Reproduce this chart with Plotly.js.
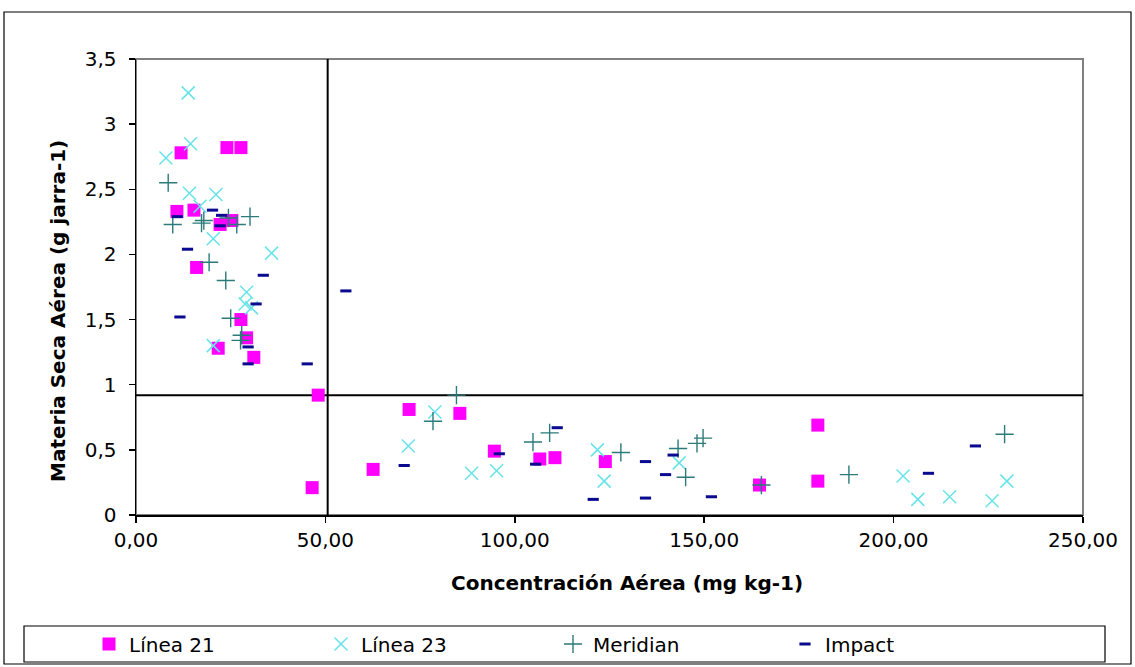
<!DOCTYPE html>
<html>
<head>
<meta charset="utf-8">
<script src="https://cdn.plot.ly/plotly-3.0.1.min.js"></script>
<style>html,body{margin:0;padding:0;background:#fff;}#chart{width:1135px;height:667px;}</style>
</head>
<body>
<div id="chart"></div>
<script>
// Series names
const seriesNames = ["Línea 21", "Línea 23", "Meridian", "Impact"];

// Línea 21
const linea21X = [11.9, 24.0, 27.7, 10.8, 15.3, 22.2, 25.3, 16.0, 27.7, 29.2, 21.7, 31.1, 48.1, 46.5, 72.1, 85.5, 62.6, 94.6, 106.6, 110.6, 123.9, 164.6, 180.0, 180.0];
const linea21Y = [2.78, 2.82, 2.82, 2.33, 2.34, 2.23, 2.26, 1.90, 1.50, 1.36, 1.28, 1.21, 0.92, 0.21, 0.81, 0.78, 0.35, 0.49, 0.43, 0.44, 0.41, 0.23, 0.69, 0.26];

// Línea 23
const linea23X = [13.8, 14.4, 7.9, 14.1, 21.1, 16.9, 20.4, 35.8, 29.2, 28.8, 30.5, 20.4, 78.9, 71.9, 88.6, 95.2, 121.8, 123.6, 143.4, 202.5, 206.4, 214.8, 226.0, 229.9];
const linea23Y = [3.24, 2.85, 2.74, 2.47, 2.46, 2.37, 2.12, 2.01, 1.71, 1.62, 1.59, 1.30, 0.79, 0.53, 0.32, 0.34, 0.50, 0.26, 0.40, 0.30, 0.12, 0.14, 0.11, 0.26];

// Meridian
const meridianX = [8.5, 9.7, 17.3, 17.9, 24.4, 26.6, 30.1, 19.3, 23.7, 25.0, 27.9, 27.6, 84.6, 78.4, 104.8, 109.2, 128.0, 143.1, 148.1, 149.7, 145.1, 165.1, 188.2, 229.3];
const meridianY = [2.55, 2.23, 2.24, 2.26, 2.28, 2.23, 2.29, 1.94, 1.80, 1.51, 1.38, 1.34, 0.92, 0.72, 0.56, 0.63, 0.48, 0.51, 0.55, 0.59, 0.29, 0.23, 0.31, 0.62];

// Impact
const impactX = [20.2, 10.9, 22.6, 22.2, 13.6, 33.6, 55.4, 31.7, 11.6, 29.6, 29.6, 45.2, 70.8, 95.9, 105.5, 111.2, 120.7, 134.5, 134.5, 141.8, 139.8, 151.9, 209.2, 221.6];
const impactY = [2.34, 2.29, 2.30, 2.22, 2.04, 1.84, 1.72, 1.62, 1.52, 1.29, 1.16, 1.16, 0.38, 0.47, 0.39, 0.67, 0.12, 0.41, 0.13, 0.46, 0.31, 0.14, 0.32, 0.53];

// Threshold lines
const thresholdX = 50.6;
const thresholdY = 0.92;

// Axis ranges, ticks and titles
const xRange = [0, 250];
const yRange = [0, 3.5];
const xTicks = [0, 50, 100, 150, 200, 250];
const yTicks = [0, 0.5, 1, 1.5, 2, 2.5, 3, 3.5];
const xTitle = "Concentración Aérea (mg kg-1)";
const yTitle = "Materia Seca Aérea (g jarra-1)";

const FONT = "DejaVu Sans, Arial, sans-serif";

const traces = [
  {x: linea21X, y: linea21Y, name: seriesNames[0], type: "scatter", mode: "markers",
   marker: {symbol: "square", size: 13, color: "#FF00FF", line: {width: 0}}},
  {x: linea23X, y: linea23Y, name: seriesNames[1], type: "scatter", mode: "markers",
   marker: {symbol: "x-thin-open", size: 13, color: "#66E3E8", line: {width: 1.5, color: "#66E3E8"}}},
  {x: meridianX, y: meridianY, name: seriesNames[2], type: "scatter", mode: "markers",
   marker: {symbol: "cross-thin-open", size: 13, color: "#2B7B7A", line: {width: 1.4, color: "#2B7B7A"}}},
  {x: impactX, y: impactY, name: seriesNames[3], type: "scatter", mode: "markers",
   marker: {symbol: "line-ew-open", size: 8, color: "#0A0A90", line: {width: 3, color: "#0A0A90"}}}
];

// pixel -> paper helpers for decorations outside the plot
const L = 136, R = 52, T = 59, B = 152, W = 1135, H = 667;
const pw = W - L - R, ph = H - T - B;
const px = v => (v - L) / pw;
const py = v => (H - B - v) / ph;

const layout = {
  width: W, height: H,
  margin: {l: L, r: R, t: T, b: B, pad: 0, autoexpand: false},
  paper_bgcolor: "#ffffff",
  plot_bgcolor: "#ffffff",
  separators: ",.",
  font: {family: FONT, color: "#000"},
  showlegend: true,
  legend: {
    orientation: "h",
    x: px(89), xanchor: "left",
    y: py(644), yanchor: "middle",
    bgcolor: "rgba(0,0,0,0)",
    borderwidth: 0,
    entrywidth: 187, entrywidthmode: "pixels",
    font: {family: FONT, size: 20, color: "#000"},
    traceorder: "normal"
  },
  xaxis: {
    range: xRange, tickvals: xTicks, tickformat: ".2f",
    showgrid: false, zeroline: false,
    showline: true, linecolor: "#000", linewidth: 1.5,
    ticks: "outside", ticklen: 6, tickcolor: "#000", tickwidth: 1.5,
    tickfont: {family: FONT, size: 20, color: "#000"},
    automargin: false, fixedrange: true
  },
  yaxis: {
    range: yRange, tickvals: yTicks,
    showgrid: false, zeroline: false,
    showline: true, linecolor: "#000", linewidth: 1.5,
    ticks: "outside", ticklen: 6, tickcolor: "#000", tickwidth: 1.5,
    ticklabelstandoff: 8,
    tickfont: {family: FONT, size: 20, color: "#000"},
    automargin: false, fixedrange: true
  },
  annotations: [
    {text: xTitle, xref: "paper", yref: "paper", x: px(627), y: py(583),
     xanchor: "center", yanchor: "middle", showarrow: false,
     font: {family: FONT, size: 20, color: "#000", weight: "bold"}},
    {text: yTitle, xref: "paper", yref: "paper", x: px(58), y: py(311),
     xanchor: "center", yanchor: "middle", showarrow: false, textangle: -90,
     font: {family: FONT, size: 20, color: "#000", weight: "bold"}}
  ],
  shapes: [
    // plot frame (gray top/right)
    {type: "rect", xref: "paper", yref: "paper", x0: 0, x1: 1, y0: 0, y1: 1,
     line: {color: "#808080", width: 2}, layer: "below"},
    // outer chart border
    {type: "rect", xref: "paper", yref: "paper", x0: px(4), x1: px(1131), y0: py(664), y1: py(12),
     line: {color: "#000", width: 1.2}},
    // legend box
    {type: "rect", xref: "paper", yref: "paper", x0: px(24), x1: px(1105), y0: py(662), y1: py(626),
     line: {color: "#000", width: 1.2}},
    // threshold lines
    {type: "line", xref: "x", yref: "y", x0: thresholdX, x1: thresholdX, y0: yRange[0], y1: yRange[1],
     line: {color: "#000", width: 2}, layer: "below"},
    {type: "line", xref: "x", yref: "y", x0: xRange[0], x1: xRange[1], y0: thresholdY, y1: thresholdY,
     line: {color: "#000", width: 2}, layer: "below"}
  ]
};

Plotly.newPlot("chart", traces, layout, {displayModeBar: false, staticPlot: true});
</script>
</body>
</html>
